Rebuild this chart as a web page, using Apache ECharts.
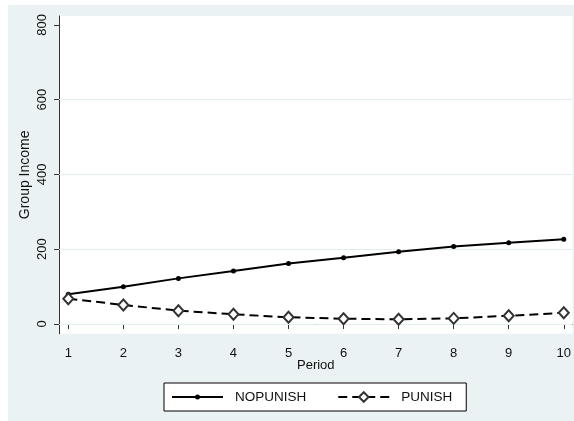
<!DOCTYPE html>
<html>
<head>
<meta charset="utf-8">
<script src="https://cdn.jsdelivr.net/npm/echarts@6/dist/echarts.min.js"></script>
<style>
html,body{margin:0;padding:0;background:#fff;}
#chart{width:574px;height:421px;}
</style>
</head>
<body>
<div id="chart"></div>
<script>
const periods = [1,2,3,4,5,6,7,8,9,10];
const nopunish = [79.5, 99.8, 122, 142, 162, 177, 193, 207, 217.5, 227];
const punish = [67.7, 51, 35.6, 26, 18, 14, 12.6, 15, 22, 30];
const yTicks = [0, 200, 400, 600, 800];
const yGrid = [0, 200, 400, 600];
const xTicks = [1,2,3,4,5,6,7,8,9,10];

const FONT = 'Arial, "Liberation Sans", sans-serif';
// legend icon for the solid series: a line with a small dot in the middle (51 x 12 box)
const solidIcon = 'path://M0,0 L0.01,0 L0.01,0.01 Z M51,12 L50.99,12 L50.99,11.99 Z ' +
  'M0,5 L51,5 L51,7 L0,7 Z ' +
  'M23,6 A2.5,2.5 0 1,1 28,6 A2.5,2.5 0 1,1 23,6 Z';

const chart = echarts.init(document.getElementById('chart'), null, {renderer:'canvas'});
chart.setOption({
  animation: false,
  backgroundColor: '#ffffff',
  graphic: [{
    type: 'rect', left: 8, top: 5, z: -100,
    shape: {width: 566, height: 416},
    style: {fill: '#EAF2F3'}
  }],
  grid: {
    left: 59, right: 1.3, top: 16, bottom: 87.3,
    show: true, backgroundColor: '#ffffff', borderWidth: 0
  },
  legend: {
    left: 164, top: 383,
    padding: [7, 14, 7, 8],
    backgroundColor: '#ffffff',
    borderColor: '#000000', borderWidth: 1, borderRadius: 0,
    itemWidth: 51, itemHeight: 12, itemGap: 31,
    textStyle: {fontFamily: FONT, fontSize: 13.5, color: '#111', padding: [0,0,0,7]},
    data: [
      {name: 'NOPUNISH', icon: solidIcon, itemStyle: {color: '#000', borderWidth: 0}},
      {name: 'PUNISH'}
    ]
  },
  xAxis: {
    type: 'value', min: 0.831, max: 10.16,
    name: 'Period', nameLocation: 'middle', nameGap: 25, nameMoveOverlap: false,
    nameTextStyle: {fontFamily: FONT, fontSize: 13, color: '#111'},
    axisLine: {show: true, lineStyle: {color: '#333', width: 1}},
    axisTick: {show: true, length: 5, customValues: xTicks, lineStyle: {color: '#333'}},
    axisLabel: {customValues: xTicks, margin: 13.5, fontFamily: FONT, fontSize: 13, color: '#111'},
    splitLine: {show: false}
  },
  yAxis: {
    type: 'value', min: -26, max: 824,
    name: 'Group Income', nameLocation: 'middle', nameGap: 27, nameRotate: 90, nameMoveOverlap: false,
    nameTextStyle: {fontFamily: FONT, fontSize: 14, color: '#111'},
    axisLine: {show: true, lineStyle: {color: '#333', width: 1}},
    axisTick: {show: true, length: 5, customValues: yTicks, lineStyle: {color: '#333'}},
    axisLabel: {customValues: yTicks, rotate: 90, margin: 10, fontFamily: FONT, fontSize: 13, color: '#111'},
    splitLine: {show: false}
  },
  series: [
    {
      name: 'NOPUNISH', type: 'line',
      data: periods.map((p, i) => [p, nopunish[i]]),
      symbol: 'circle', symbolSize: 5,
      itemStyle: {color: '#000'},
      lineStyle: {color: '#000', width: 2, type: 'solid'},
      z: 3,
      markLine: {
        silent: true, symbol: 'none', z: 1,
        label: {show: false},
        lineStyle: {color: '#E3ECEE', width: 1, type: 'solid'},
        data: yGrid.map(v => ({yAxis: v}))
      }
    },
    {
      name: 'PUNISH', type: 'line',
      data: periods.map((p, i) => [p, punish[i]]),
      symbol: 'emptyDiamond', symbolSize: [10, 11],
      itemStyle: {color: '#333', borderWidth: 1},
      lineStyle: {color: '#000', width: 2, type: [9, 5]},
      z: 3
    }
  ]
});
</script>
</body>
</html>
